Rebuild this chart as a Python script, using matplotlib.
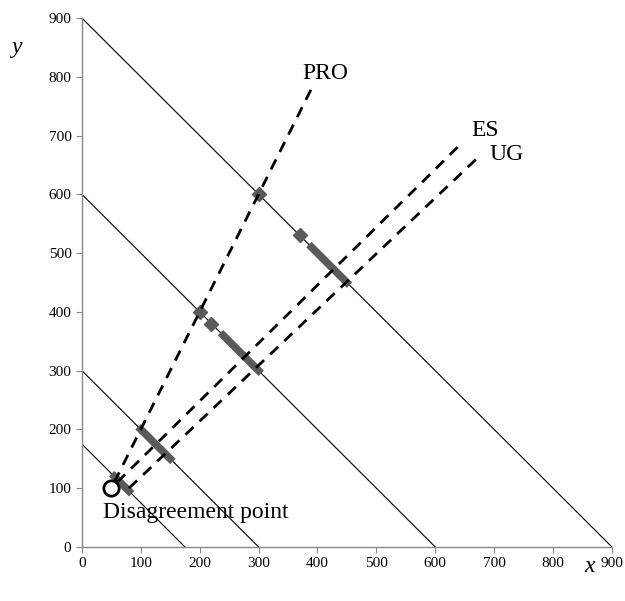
import matplotlib
matplotlib.use('Agg')
import matplotlib.pyplot as plt

plt.rcParams['font.family'] = ['Liberation Serif', 'DejaVu Serif']

# budget lines x + y = c
budgets = [175, 300, 600, 900]

# dashed paths (start, end)
pro_x = [55, 395]
pro_y = [110, 790]
es_x = [60, 648]
es_y = [110, 690]
ug_x = [80, 675]
ug_y = [100, 665]

# disagreement point
d_x = [50]
d_y = [100]

# gray bars along budget lines
bars = [
    ((55, 80), (120, 95)),
    ((100, 150), (200, 150)),
    ((240, 278), (360, 322)),
    ((287, 300), (313, 300)),
    ((390, 450), (510, 450)),
]
# gray squares
sq_x = [200, 220, 300, 370]
sq_y = [400, 380, 600, 530]

gray = '#5a5a5a'

fig = plt.figure(figsize=(6.25, 6.01), dpi=100)
ax = fig.add_axes([0.131, 0.09, 0.848, 0.88])

for c in budgets:
    ax.plot([0, c], [c, 0], color='black', lw=0.8, zorder=1)

for (bx, by) in bars:
    ax.plot(bx, by, color=gray, lw=5.5, solid_capstyle='projecting', zorder=2)
ax.plot(sq_x, sq_y, ls='none', marker='D', ms=7, color=gray, zorder=2)

for xs, ys in [(pro_x, pro_y), (es_x, es_y), (ug_x, ug_y)]:
    ax.plot(xs, ys, color='black', lw=2, ls=(0, (4, 3)), zorder=3)

ax.plot(d_x, d_y, ls='none', marker='o', ms=11, mfc='white', mec='black', mew=2, zorder=4)

ax.text(413, 806, 'PRO', fontsize=17, ha='center', va='center')
ax.text(684, 709, 'ES', fontsize=17, ha='center', va='center')
ax.text(722, 667, 'UG', fontsize=17, ha='center', va='center')
ax.text(36, 58, 'Disagreement point', fontsize=17, va='center')

ax.set_xlim(0, 900)
ax.set_ylim(0, 900)
ax.set_xticks(range(0, 901, 100))
ax.set_yticks(range(0, 901, 100))
for s in ['top', 'right']:
    ax.spines[s].set_visible(False)
for s in ['left', 'bottom']:
    ax.spines[s].set_color('#888888')
    ax.spines[s].set_linewidth(1)
ax.tick_params(direction='out', length=4, color='#888888', labelsize=11)

fig.text(590 / 625, 1 - 566 / 601, 'x', fontsize=17, style='italic', ha='center', va='center')
fig.text(17 / 625, 1 - 48 / 601, 'y', fontsize=17, style='italic', ha='center', va='center')

fig.savefig('out.png', dpi=100)
